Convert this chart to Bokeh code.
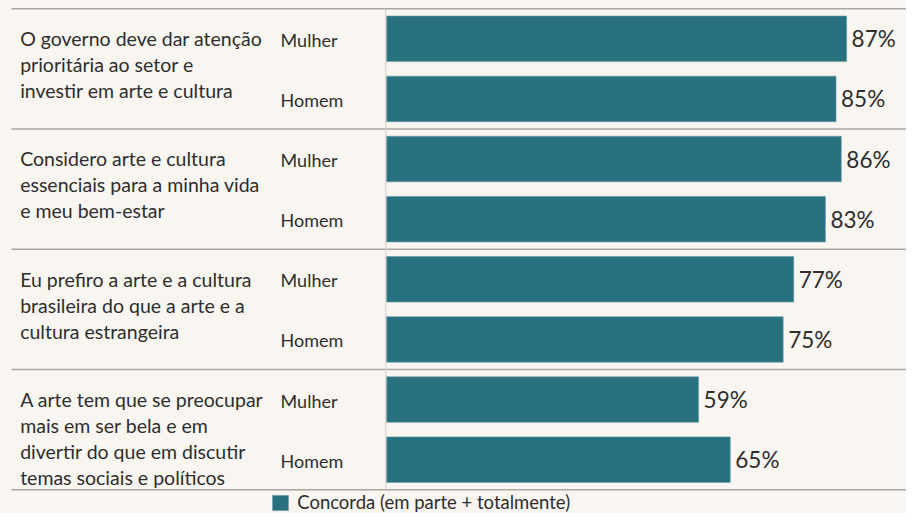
from bokeh.plotting import figure
from bokeh.models import Range1d, ColumnDataSource, Legend, LegendItem
from bokeh.core.properties import value
from bokeh.embed import file_html
from bokeh.resources import INLINE

# ---- data ----
questions = [
    "O governo deve dar atenção\nprioritária ao setor e\ninvestir em arte e cultura",
    "Considero arte e cultura\nessenciais para a minha vida\ne meu bem-estar",
    "Eu prefiro a arte e a cultura\nbrasileira do que a arte e a\ncultura estrangeira",
    "A arte tem que se preocupar\nmais em ser bela e em\ndivertir do que em discutir\ntemas sociais e políticos",
]
genders = ["Mulher", "Homem"]
mulher = [87, 86, 77, 59]
homem = [85, 83, 75, 65]
legend_label = "Concorda (em parte + totalmente)"

# ---- layout (design drawn at 922x529, scaled to fit) ----
W, H = 906, 513
SX, SY = W / 922, H / 529
SCALE = 5.38 * SX          # px per percent
BAR0 = 393 * SX            # x of value 0
PITCH = 62 * SY            # px per row
ROW0 = 39.5 * SY           # y of first row centre

x_start = -BAR0 / SCALE
x_end = x_start + W / SCALE
y_top = -ROW0 / PITCH
y_bot = y_top + H / PITCH


def px_x(px):
    return x_start + px * SX / SCALE


BG = "#f9f5f1"
TEAL = "#2a7180"
TXT = "#2e2e2e"
FONT = value("Lato")

p = figure(width=W, height=H, output_backend="svg", toolbar_location=None,
           x_range=Range1d(x_start, x_end), y_range=Range1d(y_bot, y_top),
           min_border=0, outline_line_color=None,
           background_fill_color=BG, border_fill_color=BG)
p.xaxis.visible = False
p.yaxis.visible = False
p.xgrid.visible = False
p.ygrid.visible = False

rows, vals, glabels = [], [], []
for i in range(len(questions)):
    for j, v in enumerate([mulher[i], homem[i]]):
        rows.append(2 * i + j)
        vals.append(v)
        glabels.append(genders[j])

src = ColumnDataSource(dict(y=rows, v=vals, g=glabels,
                            lab=[f"{v}%" for v in vals]))

# separators
n_groups = len(questions)
sep_y = [2 * k - 0.5 for k in range(n_groups + 1)]
p.segment(x0=px_x(11), x1=x_end, y0=sep_y, y1=sep_y,
          line_color="#aaa7a3", line_width=1.5)
# vertical divider
p.segment(x0=[px_x(392)], x1=[px_x(392)], y0=[-0.5], y1=[2 * n_groups - 0.5],
          line_color="#d8d4cf", line_width=1.2)

bars = p.hbar(y="y", left=0, right="v", height=47 / 62, source=src,
              fill_color=TEAL, line_color="#6b9ea8", line_width=0.6)

p.text(x="v", y="y", text="lab", source=src, x_offset=5,
       text_baseline="middle", text_align="left", text_font=FONT,
       text_font_size="22.5px", text_color=TXT)

p.text(x=px_x(285), y="y", text="g", source=src, y_offset=1,
       text_baseline="middle", text_align="left", text_font=FONT,
       text_font_size="18px", text_color=TXT)

LH = 26 * SY
QFS = 19.5
p.text(x=[px_x(20)] * n_groups, y=[2 * i for i in range(n_groups)],
       text=questions, y_offset=-LH / 2 + 1, text_baseline="top",
       text_align="left", text_font=FONT, text_font_size=f"{QFS}px",
       text_color=TXT, text_line_height=LH / (QFS * 1.143))

legend = Legend(items=[LegendItem(label=legend_label, renderers=[bars])],
                location=(275 * SX, 0), orientation="horizontal",
                padding=0, margin=0, spacing=0,
                glyph_width=20, glyph_height=19,
                label_text_font="Lato", label_text_font_size="18.5px",
                label_text_color=TXT, label_standoff=7,
                label_text_baseline="middle",
                background_fill_alpha=0, border_line_alpha=0)
p.add_layout(legend, "center")

open("out.html", "w").write(file_html(p, INLINE))
